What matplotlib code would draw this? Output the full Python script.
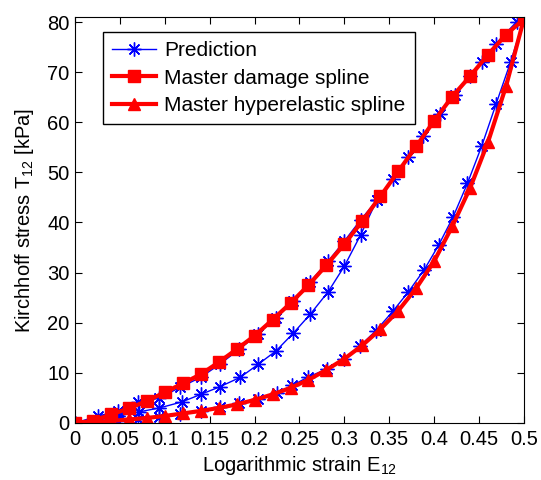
import numpy as np
import matplotlib
matplotlib.use('Agg')
import matplotlib.pyplot as plt

plt.rcParams['font.family'] = ['Liberation Sans', 'DejaVu Sans']
plt.rcParams['mathtext.default'] = 'regular'

# master curves, sampled every 0.02 strain
strain = np.linspace(0, 0.5, 26)
damage = [0, 0.4, 1.7, 2.9, 4.4, 6.1, 7.9, 9.7, 12.1, 14.7, 17.4, 20.6, 23.9,
          27.5, 31.5, 35.7, 40.3, 45.2, 50.2, 55.2, 60.3, 65.1, 69.2, 73.5,
          77.5, 80.6]
hyper = [0, 0.2, 0.4, 0.7, 1.0, 1.4, 1.9, 2.4, 3.0, 3.7, 4.6, 5.7, 7.0, 8.6,
         10.6, 12.8, 15.5, 18.7, 22.4, 26.9, 32.3, 39.2, 46.9, 56.1, 67.2, 80.7]

# model prediction: primary loading up to 0.5
load_x = [0, 0.026, 0.048, 0.07, 0.094, 0.117, 0.14, 0.161, 0.183, 0.204,
          0.224, 0.243, 0.262, 0.282, 0.300, 0.318, 0.336, 0.354, 0.371,
          0.388, 0.406, 0.423, 0.44, 0.453, 0.469, 0.492, 0.5]
load_y = [0, 1.4, 2.4, 4.1, 5.0, 7.1, 9.1, 11.7, 14.7, 17.8, 21.0, 24.4, 28.2,
          32.3, 36.3, 40.5, 44.4, 48.7, 53.1, 57.2, 61.7, 65.4, 69.2, 72.1,
          75.7, 80.1, 80.6]
# unloading/reloading from 0.336
inner_x = [0, 0.026, 0.048, 0.071, 0.094, 0.119, 0.14, 0.161, 0.184, 0.204,
           0.224, 0.243, 0.262, 0.282, 0.300, 0.318, 0.336]
inner_y = [0, 0.6, 1.4, 2.2, 3.0, 4.2, 5.7, 7.2, 9.1, 11.7, 14.4, 17.9, 21.7,
           26.2, 31.3, 37.5, 44.4]
# unloading from 0.5
unload_x = [0.5, 0.485, 0.469, 0.453, 0.437, 0.421, 0.405, 0.389, 0.371,
            0.354, 0.335, 0.317, 0.299, 0.281, 0.26, 0.242, 0.225, 0.204,
            0.183, 0.161, 0.14, 0.117, 0.094, 0.07, 0.048, 0.026, 0]
unload_y = [80.6, 72.0, 63.7, 55.3, 47.8, 41.1, 35.5, 30.6, 26.1, 22.3, 18.4,
            15.3, 12.7, 10.8, 9.2, 7.5, 6.0, 4.8, 3.9, 3.1, 2.4, 1.8, 1.2, 0.8,
            0.4, 0.2, 0]

fs = 14.5

fig = plt.figure(figsize=(5.41, 4.8), dpi=100)
ax = fig.add_axes([0.1386, 0.1188, 0.83, 0.8458])

# 8-spoke asterisk like MATLAB's '*'
blue = dict(color='blue', lw=1.0, marker=(8, 2, 0), ms=10, mew=1.0)
ax.plot(load_x, load_y, label='Prediction', **blue)
ax.plot(inner_x, inner_y, **blue)
ax.plot(unload_x, unload_y, **blue)
ax.plot(strain, damage, color='red', lw=3, marker='s', ms=8,
        label='Master damage spline')
ax.plot(strain, hyper, color='red', lw=3, marker='^', ms=9,
        label='Master hyperelastic spline')

ax.set_xlim(0, 0.5)
ax.set_ylim(0, 81)
ax.set_xticks(np.arange(0, 0.51, 0.05))
ax.set_xticklabels(['0', '0.05', '0.1', '0.15', '0.2', '0.25', '0.3', '0.35',
                    '0.4', '0.45', '0.5'])
ax.set_yticks(np.arange(0, 81, 10))
ax.tick_params(direction='in', top=True, right=True, length=5, labelsize=fs)
ax.tick_params(axis='x', pad=5)
ax.tick_params(axis='y', pad=4)
ax.set_xlabel('Logarithmic strain E$_{12}$', fontsize=fs, labelpad=4)
ax.set_ylabel('Kirchhoff stress T$_{12}$ [kPa]', fontsize=fs, labelpad=8)

leg = ax.legend(loc='upper left', bbox_to_anchor=(0.062, 0.963), fontsize=15,
                fancybox=False, framealpha=1, edgecolor='black',
                handlelength=2.1, handletextpad=0.4, borderpad=0.45,
                labelspacing=0.4, borderaxespad=0)
leg.get_frame().set_linewidth(1.0)

fig.savefig('out.png', dpi=100)
